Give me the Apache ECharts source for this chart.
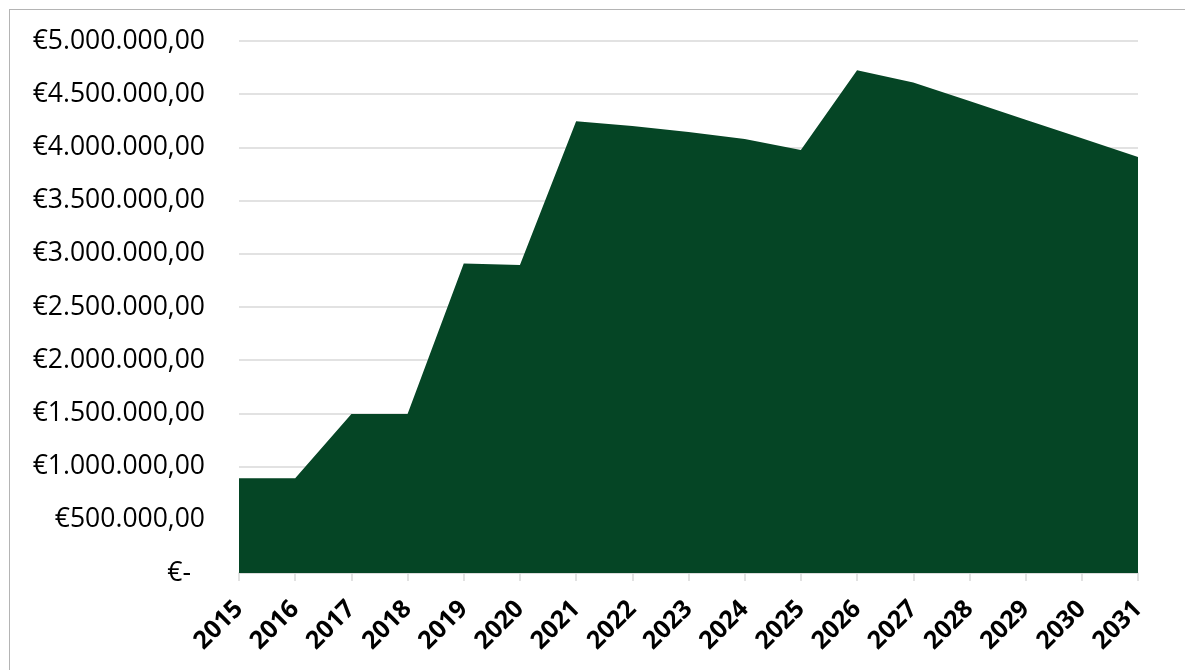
<!DOCTYPE html>
<html>
<head>
<meta charset="utf-8">
<script src="https://cdn.jsdelivr.net/npm/echarts@6/dist/echarts.min.js"></script>
<style>
html,body{margin:0;padding:0;background:#fff;}
#frame{position:absolute;left:9px;top:9px;width:1200px;height:700px;border:1.5px solid #b4b4b4;box-sizing:border-box;}
#chart{position:absolute;left:0;top:0;width:1185px;height:670px;}
</style>
</head>
<body>
<div id="frame"></div>
<div id="chart"></div>
<script>
const years = ['2015','2016','2017','2018','2019','2020','2021','2022','2023','2024','2025','2026','2027','2028','2029','2030','2031'];
const values = [890000, 890000, 1495000, 1495000, 2910000, 2895000, 4245000, 4200000, 4145000, 4080000, 3975000, 4725000, 4610000, 4435000, 4260000, 4085000, 3910000];
const yMin = 0, yMax = 5000000, yStep = 500000;

function fmtEuro(v){
  if (v === 0) return '{z|€-}';
  const s = (v).toFixed(0).replace(/\B(?=(\d{3})+(?!\d))/g, '.');
  return '€' + s + ',00';
}

const chart = echarts.init(document.getElementById('chart'));
chart.setOption({
  animation:false,
  backgroundColor:'transparent',
  grid:{left:239, right:47, top:41, bottom:97, containLabel:false},
  xAxis:{
    type:'category', data:years, boundaryGap:false,
    axisLine:{lineStyle:{color:'#d9d9d9', width:1.5}},
    axisTick:{show:true, length:8, lineStyle:{color:'#d9d9d9', width:1.5}},
    axisLabel:{rotate:45, interval:0, margin:32, color:'#000', fontFamily:'Open Sans', fontWeight:'bold', fontSize:25}
  },
  yAxis:{
    type:'value', min:yMin, max:yMax, interval:yStep,
    axisLine:{show:false}, axisTick:{show:false},
    splitLine:{lineStyle:{color:'#d9d9d9', width:1.5}},
    axisLabel:{margin:34, color:'#000', fontFamily:'Open Sans', fontSize:26.5, formatter:fmtEuro,
      rich:{z:{fontFamily:'Open Sans', fontSize:26.5, color:'#000', padding:[0,14,0,0]}}}
  },
  series:[{
    type:'line', data:values, showSymbol:false, symbol:'none',
    lineStyle:{width:0},
    areaStyle:{color:'#054525', opacity:1},
    itemStyle:{color:'#054525'}
  }]
});
</script>
</body>
</html>
